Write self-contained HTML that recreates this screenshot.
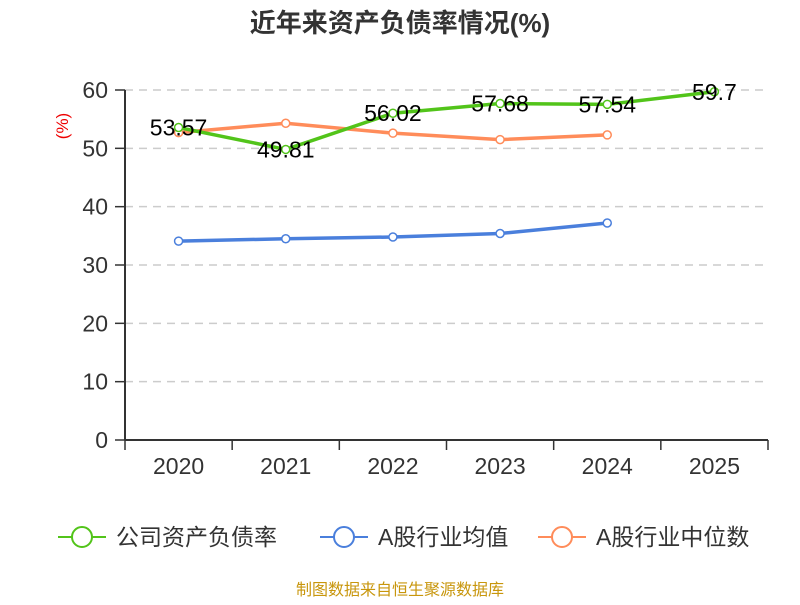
<!DOCTYPE html>
<html><head><meta charset="utf-8"><style>
body{margin:0;background:#fff;width:800px;height:600px;overflow:hidden}
text{font-family:"Liberation Sans","Noto Sans CJK SC",sans-serif}
</style></head><body>
<svg id="c" width="800" height="600">
<text x="400" y="32" text-anchor="middle" font-size="26" font-weight="bold" fill="#333">近年来资产负债率情况(%)</text>
<text transform="translate(68,126) rotate(-90)" text-anchor="middle" font-size="17" fill="#e00">(%)</text>
<g id="grid"></g><g id="axes"></g><g id="series"></g><g id="labels"></g>
<g id="legend"></g>
<text x="400" y="595" text-anchor="middle" font-size="16" fill="#c8960c">制图数据来自恒生聚源数据库</text>
</svg>
<script>
const categories=["2020","2021","2022","2023","2024","2025"];
const yTicks=[0,10,20,30,40,50,60];
const companyValues=[53.57,49.81,56.02,57.68,57.54,59.7];
const avgValues=[34.1,34.5,34.8,35.4,37.2];
const medianValues=[52.7,54.3,52.6,51.5,52.3];
const NS="http://www.w3.org/2000/svg";
const x0=125,x1=768,yB=440,yT=90;
const bw=(x1-x0)/categories.length;
const X=i=>x0+bw*(i+0.5);
const Y=v=>yB-(v/60)*(yB-yT);
function mk(t,a,p){const e=document.createElementNS(NS,t);for(const k in a)e.setAttribute(k,a[k]);(p||document.getElementById('c')).appendChild(e);return e;}
const grid=document.getElementById('grid'),axes=document.getElementById('axes');
yTicks.forEach(v=>{
 if(v>0){const g=mk('line',{x1:x0,x2:x1,y1:Y(v),y2:Y(v),stroke:'#ccc','stroke-dasharray':'8,6','stroke-width':1.5},grid);
 
 }
 const tk=mk('line',{x1:x0-10,x2:x0,y1:Y(v),y2:Y(v),stroke:'#333','stroke-width':1.5},axes);
 
 
 const t=mk('text',{x:x0-17,y:Y(v)+8,'text-anchor':'end','font-size':23,fill:'#333'},axes);t.textContent=v;
 
 
});
const ya=mk('line',{x1:x0,x2:x0,y1:yT,y2:yB,stroke:'#333','stroke-width':2},axes);


const xa=mk('line',{x1:x0,x2:x1,y1:yB,y2:yB,stroke:'#333','stroke-width':2},axes);


for(let i=0;i<=categories.length;i++){const l=mk('line',{x1:x0+bw*i,x2:x0+bw*i,y1:yB,y2:yB+10,stroke:'#333','stroke-width':1.5},axes);
 
 }
categories.forEach((c,i)=>{const t=mk('text',{x:X(i),y:474,'text-anchor':'middle','font-size':23,fill:'#333'},axes);t.textContent=c;
 
 });
const ser=document.getElementById('series');
function line(vals,col,name){
 const g=mk('g',{},ser);
 
 
 mk('polyline',{points:vals.map((v,i)=>X(i)+','+Y(v)).join(' '),fill:'none',stroke:col,'stroke-width':3.5},g);
 vals.forEach((v,i)=>{const p=mk('circle',{cx:X(i),cy:Y(v),r:4,fill:'#fff',stroke:col,'stroke-width':1.5},g);
  
  });
}
line(avgValues,'#4a7fdc','industry-average-line');
line(medianValues,'#ff8c5a','industry-median-line');
line(companyValues,'#52c41a','company-line');
const lb=document.getElementById('labels');
companyValues.forEach((v,i)=>{const t=mk('text',{x:X(i),y:Y(v)+8,'text-anchor':'middle','font-size':23,fill:'#000'},lb);t.textContent=v;
 
 });
const lg=document.getElementById('legend');
[['公司资产负债率','#52c41a',58],['A股行业均值','#4a7fdc',320],['A股行业中位数','#ff8c5a',538]].forEach(([n,c,x])=>{
 const g=mk('g',{},lg);
 
 
 mk('line',{x1:x,x2:x+48,y1:537,y2:537,stroke:c,'stroke-width':2},g);
 mk('circle',{cx:x+24,cy:537,r:10,fill:'#fff',stroke:c,'stroke-width':2},g);
 const t=mk('text',{x:x+58,y:545,'font-size':23,fill:'#333'},g);t.textContent=n;
});
</script>
</body></html>
